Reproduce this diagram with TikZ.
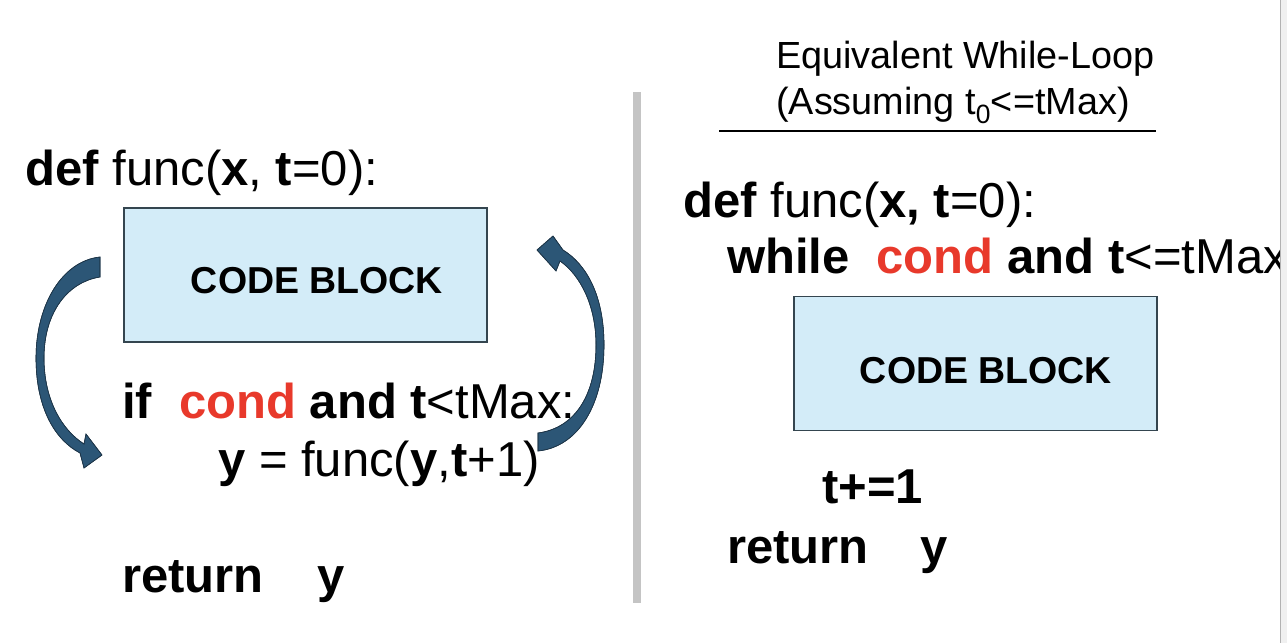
\documentclass[tikz,border=0pt]{standalone}
\usepackage{fontspec}
\setmainfont{Liberation Sans}
\usetikzlibrary{positioning}
\definecolor{condred}{HTML}{E8392B}
\definecolor{blockblue}{HTML}{D3ECF8}
\definecolor{blockedge}{HTML}{34454F}
\definecolor{loopblue}{HTML}{2C5676}
\definecolor{loopedge}{HTML}{1C3447}
\definecolor{sepgrey}{HTML}{C4C4C4}
\newcommand{\codesize}{\fontsize{49}{58}\selectfont}
\newcommand{\blocksize}{\fontsize{37.5}{44}\selectfont}
\newcommand{\headsize}{\fontsize{37.8}{45}\selectfont}
\newcommand{\cnd}{\textcolor{condred}{\textbf{cond}}}

\begin{document}
\begin{tikzpicture}[x=1pt,y=-1pt,
  codeline/.style={anchor=base west,inner sep=0pt,font=\codesize},
  blockbox/.style={draw=blockedge,fill=blockblue,line width=1.3pt,minimum width=363pt,minimum height=134pt,inner sep=0pt},
  blocklabel/.style={anchor=base,inner sep=0pt,font=\blocksize\bfseries},
  loopshape/.style={fill=loopblue,draw=loopedge,line width=0.6pt}]
  \useasboundingbox (0,0) rectangle (1287,643);

  \node[codeline] (defL) at (25,185) {\textbf{def} func(\textbf{x}, \textbf{t}=0):};
  \node[blockbox] (blockL) at (305.5,275) {};
  \node[blocklabel] (blockLtxt) at (317,293) {CODE BLOCK};
  \node[codeline] (ifL) at (122,418) {\textbf{if}\hspace{27pt}\cnd{} \textbf{and t}<tMax:};
  \node[codeline] (callL) at (218,476) {\textbf{y} = func(\textbf{y},\textbf{t}+1)};
  \node[codeline] (retL) at (122,592) {\textbf{return}\hspace{54pt}\textbf{y}};

  \fill[loopshape] (100,257) .. controls (62,261) and (36,305) .. (36,358)
    .. controls (36,408) and (55,440) .. (80,453) -- (84,468) -- (102,455)
    -- (86,434) -- (84,444) .. controls (62,430) and (44,400) .. (44,358)
    .. controls (44,312) and (68,282) .. (100,277) -- cycle;
  \draw[loopedge,line width=0.6pt] (100,257) .. controls (62,261) and (36,305) .. (36,358)
    .. controls (36,408) and (55,440) .. (80,453) -- (84,468) -- (102,455)
    -- (86,434) -- (84,444) .. controls (62,430) and (44,400) .. (44,358)
    .. controls (44,312) and (68,282) .. (100,277) -- cycle;

  \fill[loopshape] (538,451) .. controls (578,447) and (604,405) .. (604,345)
    .. controls (604,295) and (586,264) .. (563,250) -- (553,236) -- (537,250)
    -- (556,271) -- (560,261) .. controls (580,275) and (596,305) .. (596,345)
    .. controls (596,395) and (575,428) .. (538,433) -- cycle;
  \draw[loopedge,line width=0.6pt] (538,451) .. controls (578,447) and (604,405) .. (604,345)
    .. controls (604,295) and (586,264) .. (563,250) -- (553,236) -- (537,250)
    -- (556,271) -- (560,261) .. controls (580,275) and (596,305) .. (596,345)
    .. controls (596,395) and (575,428) .. (538,433) -- cycle;

  \fill[sepgrey] (633,92) rectangle (641,603);

  \node[anchor=base west,inner sep=0pt,font=\headsize] (headA) at (776,68) {Equivalent While-Loop};
  \node[anchor=base west,inner sep=0pt,font=\headsize] (headB) at (776,114) {(Assuming t\textsubscript{0}<=tMax)};
  \draw[black,line width=1.5pt] (719,131) -- (1156,131);

  \node[codeline] (defR) at (683,217) {\textbf{def} func(\textbf{x, t}=0):};
  \node[codeline] (whileR) at (727,273) {\textbf{while}\hspace{27pt}\cnd{} \textbf{and t}<=tMax};
  \node[blockbox] (blockR) at (975.5,363.5) {};
  \node[blocklabel] (blockRtxt) at (986,383) {CODE BLOCK};
  \node[codeline] (incR) at (822,503) {\textbf{t+=1}};
  \node[codeline] (retR) at (727,563) {\textbf{return}\hspace{52pt}\textbf{y}};

  \fill[black!6] (1280,0) rectangle (1287,643);
  \draw[black!30,line width=0.8pt] (1280.5,0) -- (1280.5,643);
\end{tikzpicture}
\end{document}
